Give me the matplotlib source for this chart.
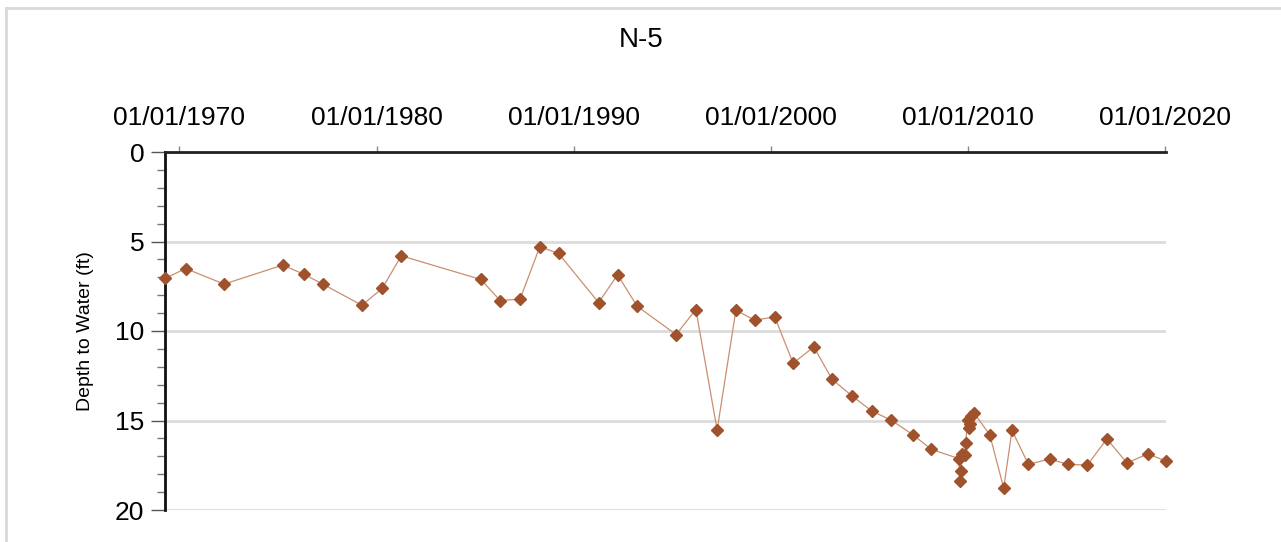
import matplotlib
matplotlib.use("Agg")
import matplotlib.pyplot as plt
from matplotlib.lines import Line2D
import pandas as pd

plt.rcParams['font.family'] = ['Liberation Sans', 'DejaVu Sans']

title = "N-5"
ylabel = "Depth to Water (ft)"

dates = [
    "1969-04-13", "1970-04-27", "1972-04-08", "1975-03-29", "1976-04-20",
    "1977-04-10", "1979-04-05", "1980-04-16", "1981-04-02", "1985-04-16",
    "1986-04-08", "1987-04-12", "1988-04-12", "1989-03-25", "1991-04-06",
    "1992-03-22", "1993-03-18", "1995-03-11", "1996-03-11", "1997-04-09",
    "1998-03-22", "1999-03-08", "2000-03-11", "2001-02-14", "2002-03-04",
    "2003-02-06", "2004-02-10", "2005-02-10", "2006-02-10", "2007-03-11",
    "2008-02-17", "2009-07-13", "2009-07-31", "2009-08-15", "2009-09-13",
    "2009-11-03", "2009-11-14", "2009-12-20", "2010-01-08", "2010-01-30",
    "2010-02-28", "2010-04-13", "2011-02-03", "2011-10-20", "2012-03-22",
    "2013-01-19", "2014-02-17", "2015-01-16", "2016-01-16", "2017-01-12",
    "2018-01-19", "2019-02-07", "2020-01-03",
]
depth = [
    7.06, 6.51, 7.38, 6.32, 6.82,
    7.38, 8.56, 7.62, 5.80, 7.12,
    8.30, 8.22, 5.29, 5.67, 8.41,
    6.86, 8.61, 10.20, 8.80, 15.53,
    8.84, 9.40, 9.21, 11.80, 10.89,
    12.70, 13.63, 14.47, 14.99, 15.79,
    16.61, 17.13, 18.36, 17.84, 16.89,
    16.95, 16.28, 14.99, 15.40, 15.21,
    14.77, 14.56, 15.79, 18.77, 15.55,
    17.45, 17.15, 17.45, 17.49, 16.03,
    17.37, 16.87, 17.25,
]
xtick_dates = ["1970-01-01", "1980-01-01", "1990-01-01", "2000-01-01", "2010-01-01", "2020-01-01"]
xtick_labels = ["01/01/1970", "01/01/1980", "01/01/1990", "01/01/2000", "01/01/2010", "01/01/2020"]
yticks = [0, 5, 10, 15, 20]

W, H = 1281, 542
fig = plt.figure(figsize=(W / 100, H / 100), dpi=100)
ax = fig.add_axes([165 / W, 1 - 510 / H, (1166 - 165) / W, (510 - 152) / H])

x = pd.to_datetime(dates)
ax.plot(x, depth, color="#c98f70", lw=0.9, zorder=3, clip_on=False)
ax.plot(x, depth, ls="none", marker="D", ms=6.2, color="#a0522d",
        markeredgecolor="#a0522d", zorder=4, clip_on=False)

ax.set_xlim(pd.Timestamp("1969-04-10"), pd.Timestamp("2020-01-12"))
ax.set_ylim(20, 0)

ax.xaxis.tick_top()
ax.set_xticks(pd.to_datetime(xtick_dates))
ax.set_xticklabels(xtick_labels)
ax.tick_params(axis="x", which="major", length=4, width=1, color="#888888",
               labelsize=19, pad=12, direction="out")
ax.set_yticks(yticks)
ax.set_yticks(range(0, 21), minor=True)
ax.tick_params(axis="y", which="major", length=10, width=1, color="#555555",
               labelsize=19, pad=5)
ax.tick_params(axis="y", which="minor", length=6, width=1, color="#777777")

ax.grid(axis="y", color="#dcdcdc", lw=2)
ax.set_axisbelow(True)
for s in ["right", "bottom"]:
    ax.spines[s].set_visible(False)
ax.spines["left"].set_linewidth(2)
ax.spines["top"].set_linewidth(2)
ax.spines["left"].set_color("#111111")
ax.spines["top"].set_color("#222222")

ax.set_ylabel(ylabel, fontsize=14, labelpad=15)
fig.text(641 / W, 1 - 40 / H, title, ha="center", va="center", fontsize=20)

# outer frame (partially outside the figure)
fig.add_artist(Line2D([6 / W, 6 / W], [0, 1 - 8 / H], color="#d9d9d9", lw=2,
                      transform=fig.transFigure))
fig.add_artist(Line2D([6 / W, 1], [1 - 8 / H, 1 - 8 / H], color="#d9d9d9", lw=2,
                      transform=fig.transFigure))

fig.savefig("out.png", dpi=100)
